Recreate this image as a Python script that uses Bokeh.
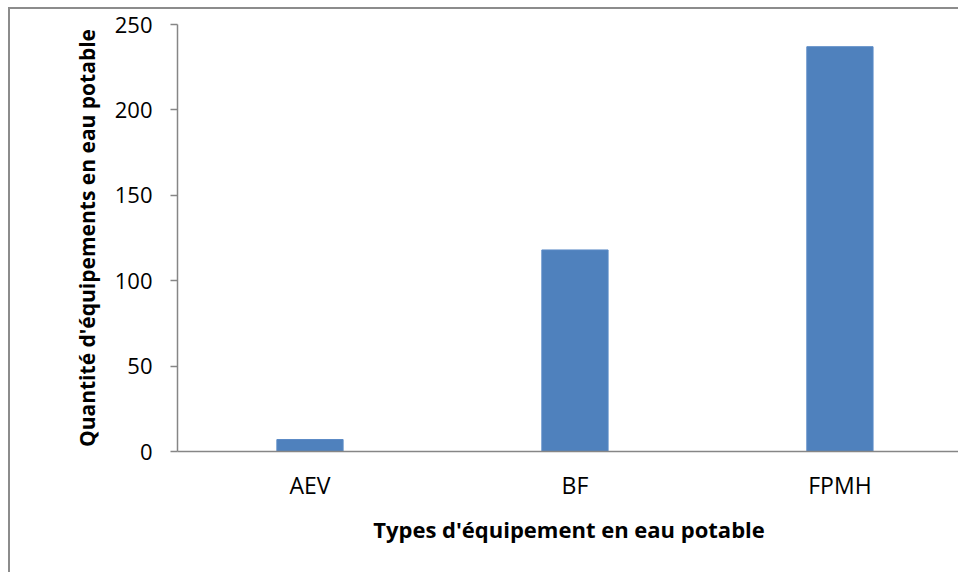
from bokeh.plotting import figure
from bokeh.models import Range1d, FixedTicker
from bokeh.embed import file_html
from bokeh.resources import INLINE

categories = ["AEV", "BF", "FPMH"]
values = [7, 118, 237]
y_ticks = [0, 50, 100, 150, 200, 250]

x_pos = [i + 0.5 for i in range(len(categories))]

FONT = "Open Sans"
AXIS_COLOR = "#868686"

p = figure(width=950, height=565, output_backend="svg", toolbar_location=None,
           x_range=Range1d(0, 2.955), y_range=Range1d(0, 250),
           min_border_left=167, min_border_right=0, min_border_top=15,
           min_border_bottom=123)
p.styles = {"border-left": "2px solid #8c8c8c", "border-top": "2px solid #8c8c8c",
            "margin-left": "8px", "margin-top": "7px"}
p.outline_line_color = None
p.xgrid.visible = False
p.ygrid.visible = False

p.vbar(x=x_pos, top=values, width=0.25, fill_color="#4F81BD", line_color="#5a8ac6", line_width=1)

# y axis
p.yaxis.ticker = FixedTicker(ticks=y_ticks)
p.yaxis.axis_line_color = AXIS_COLOR
p.yaxis.axis_line_width = 1.5
p.yaxis.major_tick_line_color = AXIS_COLOR
p.yaxis.major_tick_line_width = 1.5
p.yaxis.major_tick_out = 7
p.yaxis.major_tick_in = 0
p.yaxis.minor_tick_line_color = None
p.yaxis.major_label_text_font = FONT
p.yaxis.major_label_text_font_size = "22px"
p.yaxis.major_label_text_color = "black"
p.yaxis.major_label_standoff = 18
p.yaxis.axis_label = "Quantité d'équipements en eau potable"
p.yaxis.axis_label_text_font = FONT
p.yaxis.axis_label_text_font_style = "bold"
p.yaxis.axis_label_text_font_size = "21px"
p.yaxis.axis_label_text_color = "black"
p.yaxis.axis_label_standoff = 11

# x axis
p.xaxis.ticker = FixedTicker(ticks=x_pos)
p.xaxis.major_label_overrides = {x: c for x, c in zip(x_pos, categories)}
p.xaxis.axis_line_color = AXIS_COLOR
p.xaxis.axis_line_width = 1.5
p.xaxis.major_tick_line_color = None
p.xaxis.minor_tick_line_color = None
p.xaxis.major_label_text_font = FONT
p.xaxis.major_label_text_font_size = "23px"
p.xaxis.major_label_text_color = "black"
p.xaxis.major_label_standoff = 11
p.xaxis.axis_label = "Types d'équipement en eau potable"
p.xaxis.axis_label_text_font = FONT
p.xaxis.axis_label_text_font_style = "bold"
p.xaxis.axis_label_text_font_size = "22px"
p.xaxis.axis_label_text_color = "black"
p.xaxis.axis_label_standoff = 10

open("out.html", "w").write(file_html(p, INLINE))
